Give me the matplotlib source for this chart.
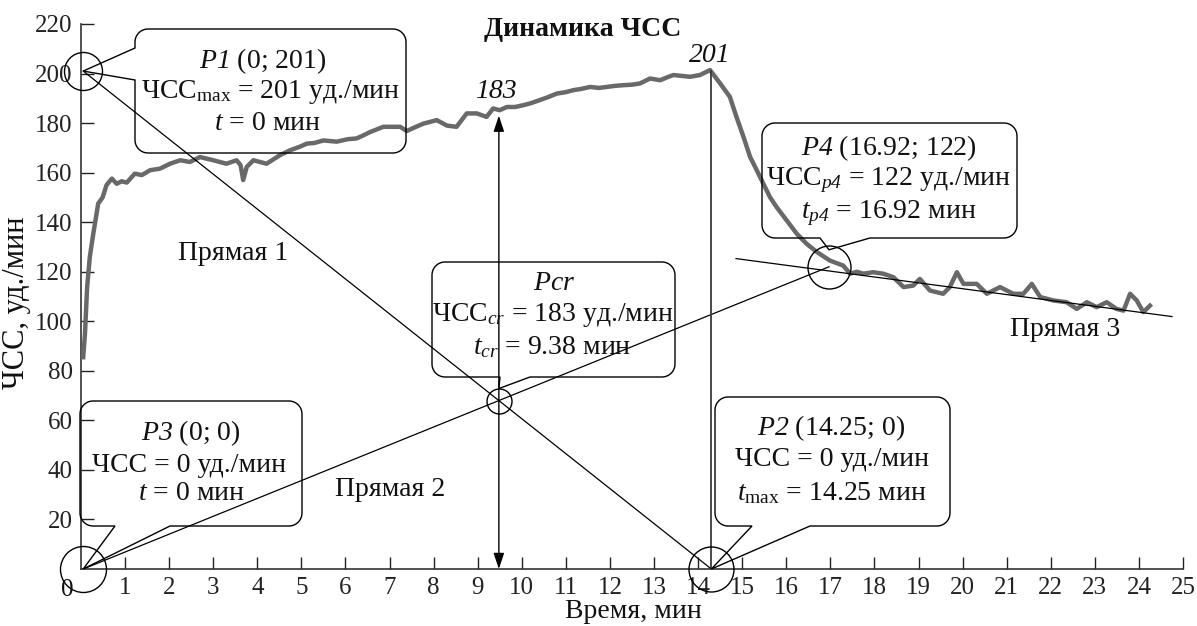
import numpy as np
import matplotlib
matplotlib.use('Agg')
import matplotlib.pyplot as plt
import matplotlib.transforms as mtransforms
from matplotlib.patches import Polygon

plt.rcParams['font.family'] = 'Liberation Serif'
plt.rcParams['mathtext.fontset'] = 'custom'
plt.rcParams['mathtext.rm'] = 'Liberation Serif'
plt.rcParams['mathtext.it'] = 'Liberation Serif:italic'
plt.rcParams['mathtext.sf'] = 'Liberation Serif:italic'   # italic letters and digits
plt.rcParams['mathtext.bf'] = 'Liberation Serif:bold'

# heart rate record
t_min = [0.05, 0.09, 0.14, 0.20, 0.28, 0.39, 0.49, 0.58, 0.70, 0.81, 0.92, 1.04,
         1.22, 1.38, 1.57, 1.79, 2.02, 2.25, 2.47, 2.70, 3.00, 3.30, 3.53, 3.62,
         3.68, 3.76, 3.91, 4.21, 4.51, 4.74, 4.97, 5.12, 5.30, 5.50, 5.80, 6.05,
         6.25, 6.40, 6.56, 6.86, 7.08, 7.24, 7.39, 7.60, 7.77, 8.07, 8.30, 8.52,
         8.75, 8.98, 9.20, 9.35, 9.50, 9.66, 9.85, 10.03, 10.20, 10.41, 10.60,
         10.79, 11.00, 11.17, 11.35, 11.55, 11.75, 11.93, 12.10, 12.30, 12.50,
         12.68, 12.91, 13.14, 13.30, 13.44, 13.65, 13.82, 14.04, 14.27, 14.50,
         14.72, 14.87, 15.03, 15.18, 15.33, 15.48, 15.63, 15.78, 16.01, 16.24,
         16.46, 16.69, 16.99, 17.29, 17.45, 17.60, 17.75, 17.97, 18.20, 18.43,
         18.66, 18.88, 19.03, 19.26, 19.56, 19.71, 19.87, 20.02, 20.32, 20.55,
         20.85, 21.15, 21.38, 21.57, 21.76, 22.06, 22.36, 22.59, 22.82, 23.04,
         23.27, 23.49, 23.65, 23.80, 23.95, 24.10, 24.25]
hr = [85.5, 95, 114, 126, 135.5, 147.5, 150, 155, 157.6, 155.5, 156.5, 156,
      159.6, 159, 161, 161.6, 163.6, 165, 164.3, 166.3, 165, 163.6, 165, 163,
      157, 162.3, 165, 163.6, 167, 169, 170.5, 171.7, 172, 173, 172.5, 173.5,
      173.8, 175, 176.4, 178.5, 178.5, 178.5, 176.8, 178.5, 179.8, 181.2, 179, 178.5,
      183.9, 183.9, 182.5, 185.9, 185.2, 186.5, 186.5, 187.2, 188, 189.3, 190.5,
      191.9, 192.5, 193.3, 193.8, 194.6, 194.2, 194.6, 195, 195.3, 195.5,
      196, 198, 197.3, 198.5, 199.4, 199, 198.7, 199.4, 201.4, 196,
      190.6, 182.5, 174.4, 166.3, 161, 155.5, 150.1, 146.1, 140.7, 135.3,
      131.3, 128, 124.5, 122.5, 119.2, 120, 119.2, 119.8, 119.2, 117.8,
      113.8, 114.4, 117.1, 112.4, 111.1, 113.8, 119.8, 115.1, 115.1, 111.1,
      113.8, 111.1, 111.1, 115.1, 109.8, 108.4, 107.7, 105, 107.7, 105.7,
      107.7, 105, 104.3, 111.1, 108.4, 103.7, 106.3]

# key points (time, HR)
t0 = 0.05          # start of the record on the time axis
p1 = (0, 201)
p2 = (14.25, 0)
p3 = (0, 0)
p4 = (16.92, 122)
hr_cr = 183
line3_t = [14.86, 24.75]
line3_hr = [125.3, 101.9]

W, H = 1197, 626
fig = plt.figure(figsize=(W / 100, H / 100), dpi=100)
ax = fig.add_axes([81 / W, 1 - 569 / H, (1183 - 81) / W, (569 - 24) / H])
ax.set_xlim(0, 25)
ax.set_ylim(0, 220)
for s in ['top', 'right']:
    ax.spines[s].set_visible(False)
for s in ['left', 'bottom']:
    ax.spines[s].set_color('#333333')
    ax.spines[s].set_linewidth(1.2)

ax.set_xticks(range(1, 26))
ax.set_yticks(range(20, 221, 20))
ax.tick_params(direction='in', length=9, width=1, labelsize=18, colors='#222222')
ax.tick_params(axis='x', pad=6)
ax.tick_params(axis='y', pad=6)

# heart rate curve
ax.plot(t_min, hr, color='#696969', lw=3.2, solid_joinstyle='round', zorder=3)

# construction lines
P1 = (p1[0] + t0, p1[1])
P2 = (p2[0] + t0, p2[1])
P3 = (p3[0] + t0, p3[1])
P4 = (p4[0] + t0, p4[1])
ax.plot([P1[0], P2[0]], [P1[1], P2[1]], color='black', lw=0.9, zorder=4)
ax.plot([P3[0], P4[0]], [P3[1], P4[1]], color='black', lw=0.9, zorder=4)
ax.plot(line3_t, line3_hr, color='black', lw=0.9, zorder=4)
ax.plot([P2[0], P2[0]], [0, p1[1]], color='#3a3a3a', lw=1.3, zorder=4)

# intersection of line 1 and line 2
k1 = (P2[1] - P1[1]) / (P2[0] - P1[0])
k2 = (P4[1] - P3[1]) / (P4[0] - P3[0])
t_x = (P3[1] - P1[1] + k1 * P1[0] - k2 * P3[0]) / (k1 - k2)
hr_x = P1[1] + k1 * (t_x - P1[0])

ax.annotate('', xy=(t_x, hr_cr), xytext=(t_x, 0),
            arrowprops=dict(arrowstyle='<|-|>,head_length=0.6,head_width=0.2',
                            color='black', lw=1, shrinkA=0, shrinkB=0,
                            mutation_scale=16), zorder=5)

# circles around points
for (cx, cy), d in [(P1, 38), (P3, 46), (P2, 45), (P4, 43), ((t_x, hr_x), 25)]:
    ax.plot(cx, cy, 'o', ms=d * 0.72, mfc='none', mec='black', mew=1,
            clip_on=False, zorder=5)

pix = mtransforms.Affine2D().scale(1, -1).translate(0, H)


def to_px(x, y, dy=0):
    X, Y = ax.transData.transform((x, y))
    return (X, H - Y - dy)


def callout(l, t, r, b, side, base1, base2, tip, rad=13):
    def arc(cx, cy, a0, a1):
        a = np.radians(np.linspace(a0, a1, 12))
        return list(zip(cx + rad * np.cos(a), cy + rad * np.sin(a)))
    pts = arc(l + rad, t + rad, 180, 270) + arc(r - rad, t + rad, 270, 360) \
        + arc(r - rad, b - rad, 0, 90)
    if side == 'bottom':
        pts += [(base2, b), tip, (base1, b)]
        pts += arc(l + rad, b - rad, 90, 180)
    else:
        pts += arc(l + rad, b - rad, 90, 180)
        pts += [(l, base2), tip, (l, base1)]
    fig.add_artist(Polygon(pts, closed=True, fill=False, edgecolor='black',
                           lw=1, transform=pix, zorder=6))


def ftext(x, y, s, size=20, **kw):
    fig.text(x, y, s, transform=pix, ha='center', va='center', fontsize=size,
             color='#111111', **kw)


callout(135, 29, 406, 153, 'left', 48, 80, to_px(*P1))
ftext(263, 61, r'$\mathsf{P1}$ (0; 201)')
ftext(270, 92, r'ЧСС$_{\mathrm{max}}$ = 201 уд./мин')
ftext(267, 124, r'$t$ = 0 мин')

callout(80, 401, 302, 526, 'bottom', 115, 170, to_px(*P3))
ftext(191, 433, r'$\mathsf{P3}$ (0; 0)')
ftext(189, 465, 'ЧСС = 0 уд./мин')
ftext(191, 494, r'$t$ = 0 мин')

callout(432, 262, 675, 377, 'bottom', 500, 530, to_px(t_x, hr_x, 12))
ftext(554, 283, r'$\mathsf{Pcr}$')
ftext(553, 315, r'ЧСС$_{cr}$ = 183 уд./мин')
ftext(552, 347, r'$t_{cr}$ = 9.38 мин')

callout(715, 397, 950, 526, 'bottom', 752, 810, to_px(*P2))
ftext(831, 428, r'$\mathsf{P2}$ (14.25; 0)')
ftext(832, 460, 'ЧСС = 0 уд./мин')
ftext(832, 493, r'$t_{\mathrm{max}}$ = 14.25 мин')

callout(762, 123, 1017, 238, 'bottom', 820, 870, to_px(*P4, 17))
ftext(889, 148, r'$\mathsf{P4}$ (16.92; 122)')
ftext(888, 180, r'ЧСС$_{\mathsf{p4}}$ = 122 уд./мин')
ftext(889, 213, r'$t_{\mathsf{p4}}$ = 16.92 мин')

# other labels
ftext(583, 30, 'Динамика ЧСС', weight='bold')
ftext(496, 92, '183', style='italic')
ftext(710, 55, '201', style='italic')
ftext(233, 254, 'Прямая 1')
ftext(390, 490, 'Прямая 2')
ftext(1065, 330, 'Прямая 3')
ftext(67, 590, '0', size=18)
ftext(633, 612, 'Время, мин')
ftext(17, 303, 'ЧСС, уд./мин', size=22, rotation=90)

fig.savefig('out.png', dpi=100)
